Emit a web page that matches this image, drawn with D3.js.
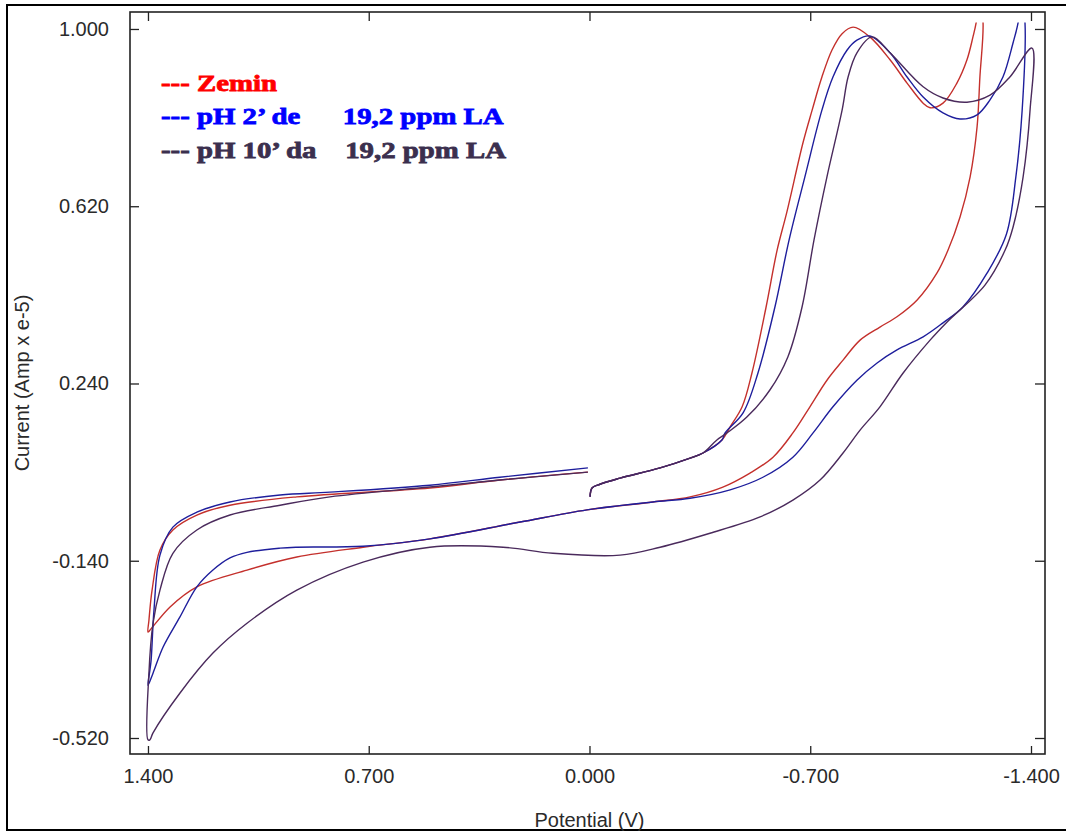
<!DOCTYPE html>
<html lang="en">
	<head>
		<meta charset="utf-8">
		<title>Cyclic voltammogram</title>
		<script src="https://d3js.org/d3.v7.min.js"></script>
		<style type="text/css">
			body { margin: 0; background: #fff; }
		</style>
	</head>
	<body>
		<script type="text/javascript">
			//Width and height
			var w = 1066;
			var h = 832;

			//Axis ticks
			var xTicks = [1.4, 0.7, 0.0, -0.7, -1.4];
			var yTicks = [1.0, 0.62, 0.24, -0.14, -0.52];

			//Legend entries
			var legendNames = ["--- Zemin", "--- pH 2\u2019 de", "--- pH 10\u2019 da"];
			var legendExtra = ["", "19,2 ppm LA", "19,2 ppm LA"];

			//Curves, [potential V, current Amp x e-5], in scan order
			var redCurve = [
				[-0.002, -0.003], [-0.008, 0.016], [-0.033, 0.024], [-0.097, 0.037], [-0.224, 0.059],
				[-0.319, 0.080], [-0.360, 0.091], [-0.420, 0.119], [-0.446, 0.147], [-0.484, 0.190],
				[-0.515, 0.262], [-0.560, 0.404], [-0.595, 0.526], [-0.626, 0.608], [-0.677, 0.756],
				[-0.706, 0.826], [-0.737, 0.897], [-0.769, 0.955], [-0.801, 0.990], [-0.836, 1.004],
				[-0.889, 0.983], [-0.953, 0.934], [-1.007, 0.884], [-1.058, 0.841], [-1.080, 0.831],
				[-1.121, 0.841], [-1.165, 0.884], [-1.197, 0.934], [-1.216, 0.983], [-1.226, 1.013],
				[-1.237, 1.07],
				[-1.248, 1.013], [-1.238, 0.897], [-1.229, 0.790], [-1.207, 0.683], [-1.175, 0.597],
				[-1.137, 0.526], [-1.102, 0.477], [-1.039, 0.419], [-0.975, 0.383], [-0.921, 0.361],
				[-0.858, 0.333], [-0.804, 0.290], [-0.753, 0.247], [-0.699, 0.190], [-0.645, 0.134],
				[-0.582, 0.082], [-0.509, 0.048], [-0.423, 0.018], [-0.319, -0.003], [-0.201, -0.014],
				[0.008, -0.031], [0.220, -0.057], [0.506, -0.093], [0.718, -0.111], [0.928, -0.132],
				[1.086, -0.160], [1.245, -0.196], [1.330, -0.239], [1.394, -0.289], [1.400, -0.293],
				[1.397, -0.268], [1.387, -0.203], [1.362, -0.117], [1.321, -0.074], [1.245, -0.042],
				[1.140, -0.021], [0.928, -0.003], [0.506, 0.016], [0.284, 0.033], [0.005, 0.050]
			];
			var blueCurve = [
				[-0.002, -0.003], [-0.008, 0.016], [-0.033, 0.024], [-0.097, 0.037], [-0.224, 0.059],
				[-0.319, 0.080], [-0.360, 0.091], [-0.420, 0.119], [-0.430, 0.134], [-0.487, 0.177],
				[-0.534, 0.262], [-0.588, 0.404], [-0.633, 0.548], [-0.683, 0.683], [-0.737, 0.826],
				[-0.772, 0.897], [-0.817, 0.955], [-0.848, 0.976], [-0.889, 0.985], [-0.953, 0.949],
				[-1.007, 0.897], [-1.058, 0.854], [-1.121, 0.820], [-1.175, 0.807], [-1.229, 0.816],
				[-1.270, 0.848], [-1.311, 0.897], [-1.343, 0.970], [-1.359, 1.013],
				[-1.370, 1.07],
				[-1.381, 1.013], [-1.372, 0.826], [-1.352, 0.683], [-1.322, 0.560], [-1.261, 0.477],
				[-1.184, 0.404], [-1.121, 0.370], [-1.058, 0.340], [-0.975, 0.312], [-0.912, 0.284],
				[-0.848, 0.247], [-0.772, 0.190], [-0.709, 0.134], [-0.645, 0.082], [-0.550, 0.039],
				[-0.446, 0.012], [-0.319, -0.006], [-0.201, -0.014], [0.008, -0.031], [0.220, -0.057],
				[0.506, -0.093], [0.718, -0.109], [0.928, -0.111], [0.981, -0.113], [1.086, -0.122],
				[1.140, -0.134], [1.194, -0.160], [1.245, -0.196], [1.299, -0.261], [1.352, -0.325],
				[1.384, -0.381], [1.400, -0.407],
				[1.394, -0.375], [1.390, -0.353], [1.381, -0.246], [1.362, -0.128], [1.321, -0.068],
				[1.245, -0.036], [1.140, -0.014], [0.981, 0.001], [0.823, 0.007], [0.506, 0.022],
				[0.284, 0.039], [0.005, 0.059]
			];
			var purpleCurve = [
				[-0.002, -0.003], [-0.008, 0.016], [-0.033, 0.024], [-0.097, 0.037], [-0.224, 0.059],
				[-0.319, 0.080], [-0.360, 0.091], [-0.404, 0.119], [-0.436, 0.134], [-0.499, 0.168],
				[-0.572, 0.226], [-0.629, 0.297], [-0.674, 0.404], [-0.712, 0.548], [-0.753, 0.683],
				[-0.801, 0.826], [-0.820, 0.897], [-0.848, 0.949], [-0.896, 0.983], [-0.953, 0.949],
				[-1.058, 0.876], [-1.121, 0.852], [-1.197, 0.843], [-1.270, 0.858], [-1.333, 0.897],
				[-1.403, 0.959],
				[-1.397, 0.826], [-1.375, 0.683], [-1.343, 0.575], [-1.318, 0.526], [-1.254, 0.451],
				[-1.134, 0.372], [-1.080, 0.333], [-0.994, 0.262], [-0.921, 0.190], [-0.858, 0.140],
				[-0.804, 0.091], [-0.731, 0.033], [-0.645, -0.010], [-0.541, -0.046], [-0.382, -0.081],
				[-0.224, -0.111], [-0.097, -0.128], [0.116, -0.124], [0.274, -0.111], [0.506, -0.111],
				[0.718, -0.143], [0.928, -0.203], [1.086, -0.274], [1.194, -0.338], [1.299, -0.424],
				[1.384, -0.509], [1.394, -0.524], [1.400, -0.524],
				[1.397, -0.381], [1.384, -0.274], [1.362, -0.203], [1.321, -0.124], [1.245, -0.074],
				[1.140, -0.042], [0.981, -0.021], [0.823, -0.003], [0.506, 0.018], [0.284, 0.033],
				[0.005, 0.050]
			];

			var curves = [
				{ data: redCurve, color: "#c4302c" },
				{ data: blueCurve, color: "#1e1e9c" },
				{ data: purpleCurve, color: "#4a2a5c" }
			];
			var legendColors = ["#ff0000", "#0000ff", "#3b2f4e"];

			//Plot box
			var boxL = 130, boxT = 12, boxR = 1045, boxB = 754;

			//Scales (x axis runs from positive to negative potential)
			var x = d3.scaleLinear()
				.domain([1.457, -1.4444])
				.range([boxL, boxR]);
			var y = d3.scaleLinear()
				.domain([-0.5543, 1.0364])
				.range([boxB, boxT]);

			var fmt = d3.formatLocale({ decimal: ".", thousands: ",", grouping: [3], currency: ["", ""], minus: "-" }).format(".3f");

			//Create SVG element
			var svg = d3.select("body")
				.append("svg")
				.attr("width", w)
				.attr("height", h);

			//Outer frame
			svg.append("rect")
				.attr("x", 7)
				.attr("y", 5)
				.attr("width", 1070)
				.attr("height", 825)
				.attr("fill", "#fff")
				.attr("stroke", "#000")
				.attr("stroke-width", 2);

			//Clip for the curves (instrument window ends slightly above 1.000)
			svg.append("clipPath")
				.attr("id", "plotclip")
				.append("rect")
				.attr("x", boxL)
				.attr("y", y(1.014))
				.attr("width", boxR - boxL)
				.attr("height", boxB - y(1.014));

			//Axes with inward ticks
			function styleAxis(g) {
				g.select(".domain").remove();
				g.selectAll(".tick line").attr("stroke", "#222").attr("stroke-width", 1.3);
				g.selectAll(".tick text")
					.attr("fill", "#2a2a2a")
					.attr("font-family", "'Liberation Sans', Arial, sans-serif")
					.attr("font-size", 20);
			}

			svg.append("g")
				.attr("transform", "translate(0," + boxB + ")")
				.call(d3.axisBottom(x).tickValues(xTicks).tickFormat(fmt).tickSize(-8).tickPadding(15))
				.call(styleAxis);
			svg.append("g")
				.attr("transform", "translate(0," + boxT + ")")
				.call(d3.axisTop(x).tickValues(xTicks).tickFormat("").tickSize(-9))
				.call(styleAxis);
			svg.append("g")
				.attr("transform", "translate(" + boxL + ",0)")
				.call(d3.axisLeft(y).tickValues(yTicks).tickFormat(fmt).tickSize(-9).tickPadding(21))
				.call(styleAxis);
			svg.append("g")
				.attr("transform", "translate(" + boxR + ",0)")
				.call(d3.axisRight(y).tickValues(yTicks).tickFormat("").tickSize(-10))
				.call(styleAxis);

			//Plot frame
			svg.append("rect")
				.attr("x", boxL)
				.attr("y", boxT)
				.attr("width", boxR - boxL)
				.attr("height", boxB - boxT)
				.attr("fill", "none")
				.attr("stroke", "#222")
				.attr("stroke-width", 1.6);

			//Axis titles
			svg.append("text")
				.attr("transform", "translate(29,383) rotate(-90)")
				.attr("text-anchor", "middle")
				.attr("font-family", "'Liberation Sans', Arial, sans-serif")
				.attr("font-size", 20)
				.attr("fill", "#2a2a2a")
				.text("Current (Amp x e-5)");
			svg.append("text")
				.attr("x", x(0))
				.attr("y", 827)
				.attr("text-anchor", "middle")
				.attr("font-family", "'Liberation Sans', Arial, sans-serif")
				.attr("font-size", 20)
				.attr("fill", "#2a2a2a")
				.text("Potential (V)");

			//Curves
			var line = d3.line()
				.x(function(d) { return x(d[0]); })
				.y(function(d) { return y(d[1]); })
				.curve(d3.curveCatmullRom.alpha(0.5));

			svg.append("g")
				.attr("clip-path", "url(#plotclip)")
				.selectAll("path")
				.data(curves)
				.enter()
				.append("path")
				.attr("d", function(d) { return line(d.data); })
				.attr("fill", "none")
				.attr("stroke", function(d) { return d.color; })
				.attr("stroke-width", 1.4);

			//Legend (bold serif, stretched horizontally like the source)
			var legend = svg.append("g")
				.attr("transform", "translate(161,0) scale(1.2,1)")
				.attr("font-family", "'Liberation Serif', 'Times New Roman', serif")
				.attr("font-weight", "bold")
				.attr("font-size", 24);

			var rows = legend.selectAll("text")
				.data(legendNames)
				.enter()
				.append("text")
				.attr("y", function(d, i) { return 91 + i * 33.5; })
				.attr("fill", function(d, i) { return legendColors[i]; })
				.attr("stroke", function(d, i) { return legendColors[i]; })
				.attr("stroke-width", 0.8);
			rows.append("tspan")
				.attr("x", 0)
				.text(function(d) { return d; });
			rows.append("tspan")
				.attr("x", function(d, i) { return i == 1 ? 151.5 : 153.5; })
				.text(function(d, i) { return legendExtra[i]; });
		</script>
	</body>
</html>
